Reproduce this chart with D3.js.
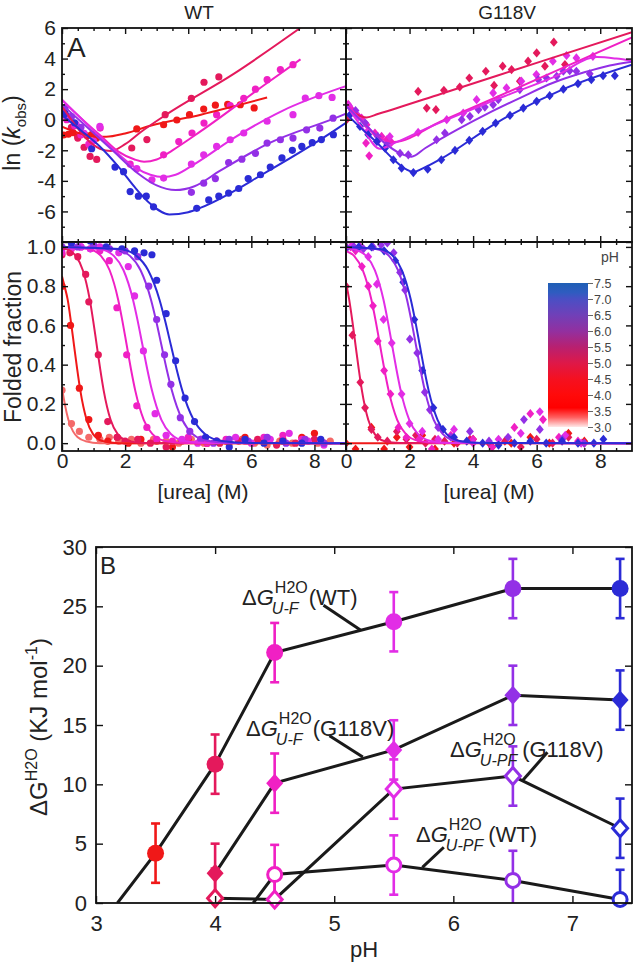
<!DOCTYPE html>
<html>
<head>
<meta charset="utf-8">
<script src="https://cdn.jsdelivr.net/npm/d3@7"></script>
<style>
body { margin: 0; background: #fff; }
text { font-family: "Liberation Sans", Arial, sans-serif; fill: #222; }
</style>
</head>
<body>
<svg id="fig" width="633" height="969"></svg>
<script>
// pH colour code shared by every panel
const phLevels = [3.0, 3.5, 4.0, 4.5, 5.5, 6.5, 7.4];
const phColors = ['#f46a6a', '#f01818', '#e4195c', '#f020c4', '#e22de6', '#9330e6', '#2b2bd6'];

// colour bar
const barTicks = [3.0, 3.5, 4.0, 4.5, 5.0, 5.5, 6.0, 6.5, 7.0, 7.5];
const barStops = [[7.5, '#1f5fb5'], [7.2, '#2f5cc0'], [7.0, '#4a4fc4'], [6.5, '#7040b8'], [6.0, '#9230a0'],
                  [5.5, '#b82070'], [5.0, '#de1848'], [4.5, '#f51020'], [4.0, '#ff0a0a'], [3.6, '#ff0000'],
                  [3.3, '#ff6060'], [3.0, '#ffe8e8']];

// ---- panel A, WT kinetics: ln(kobs) vs [urea] ----
const wtKinFit = [
  [3.5, [[0,-0.45],[0.5,-0.85],[1.0,-1.08],[1.4,-1.12],[2.0,-0.9],[2.8,-0.4],[4.4,0.33],[6.5,1.45]]],
  [4.0, [[0,0.87],[0.4,-0.3],[0.8,-1.3],[1.2,-1.9],[1.55,-2.05],[2.0,-1.6],[2.5,-0.8],[3.3,0.33],[5.44,3.0],[7.55,6.0]]],
  [4.5, [[0,1.3],[0.6,0.1],[1.2,-1.0],[1.8,-2.1],[2.3,-2.6],[2.6,-2.75],[3.0,-2.6],[3.5,-2.0],[4.4,-0.75],[6.5,2.4],[7.56,3.95]]],
  [5.5, [[0,1.3],[0.8,-0.3],[1.6,-1.9],[2.3,-3.1],[2.8,-3.6],[3.2,-3.75],[3.6,-3.6],[4.2,-2.9],[5.44,-1.2],[7.0,0.6],[8.83,2.08],[9,2.2]]],
  [6.5, [[0,1.0],[0.8,-0.5],[1.6,-2.0],[2.4,-3.5],[3.0,-4.3],[3.6,-4.6],[4.2,-4.35],[5.0,-3.35],[6.5,-1.6],[8.83,0.25],[9,0.4]]],
  [7.4, [[0,0.3],[0.6,-0.7],[1.2,-1.75],[1.8,-3.1],[2.3,-4.4],[2.8,-5.5],[3.4,-6.2],[4.0,-6.05],[4.4,-5.75],[6.5,-3.4],[8.83,-0.44],[9,-0.2]]]
];
const wtKinPts = [
  [3.5, [[0.05,-1.0],[0.2,-0.95],[0.35,-0.85],[0.5,-1.1],[0.65,-0.9],[0.8,-1.05],[0.95,-0.95],[1.1,-1.2],[2.37,-0.6],[3.22,-0.33],[3.64,-0.02],[4.04,0.33],[4.49,0.7],[4.86,0.95],[5.25,1.0],[5.65,0.98],[6.09,0.77]]],
  [4.0, [[0.1,0.3],[0.3,-0.5],[0.5,-1.2],[0.7,-1.8],[0.89,-2.4],[1.1,-2.6],[2.21,-1.85],[2.69,-1.3],[3.27,0.33],[4.1,1.4],[4.5,2.45],[4.97,2.8]]],
  [4.5, [[0.0,0.5],[0.15,0.0],[0.4,-0.4],[0.6,-1.0],[0.85,-1.6],[1.21,-0.55],[2.16,-2.9],[3.22,-2.3],[3.7,-1.43],[4.12,-0.87],[4.5,-0.22],[4.9,0.33],[5.33,0.92],[5.76,1.4],[6.13,2.0],[6.5,2.62],[6.92,3.28],[7.32,3.6]]],
  [5.5, [[0.05,0.6],[0.25,0.2],[0.45,-0.3],[0.7,-0.9],[1.0,-1.4],[1.2,-0.44],[2.37,-3.2],[2.85,-3.93],[3.22,-3.82],[4.1,-2.9],[4.49,-2.3],[4.9,-1.75],[5.33,-1.31],[5.76,-0.87],[6.5,-0.1],[7.32,0.33],[7.71,1.42],[8.14,1.57],[8.56,1.46]]],
  [6.5, [[0.1,0.8],[0.3,0.2],[0.6,-0.5],[4.1,-4.75],[4.49,-4.15],[4.86,-3.85],[5.28,-2.8],[5.7,-2.58],[6.13,-2.2],[6.5,-1.53],[6.92,-1.31],[7.32,-1.2],[7.75,-0.66],[8.17,-0.55],[8.59,0.1]]],
  [7.4, [[0.1,0.4],[0.4,-0.2],[0.94,-1.9],[1.68,-3.1],[1.95,-3.4],[2.16,-4.7],[2.42,-5.0],[2.67,-5.0],[2.9,-5.7],[4.27,-5.8],[4.65,-5.25],[4.97,-5.0],[5.28,-4.8],[5.6,-4.5],[5.9,-3.85],[6.29,-3.6],[6.6,-3.1],[6.97,-2.5],[7.3,-2.0],[7.6,-1.75],[7.93,-1.5],[8.22,-1.3],[8.6,-0.98]]]
];

// ---- panel A, G118V kinetics ----
const g1KinFit = [
  [4.0, [[0,0.9],[0.3,0.4],[0.65,0.15],[1.0,0.37],[3,1.7],[6,3.72],[9,5.73]]],
  [4.5, [[0,1.1],[0.5,-0.1],[1.0,-1.1],[1.5,-1.45],[3,-0.1],[5,1.72],[7,3.55],[9,5.38]]],
  [5.5, [[0,1.0],[0.5,-0.5],[1.07,-1.9],[1.5,-1.55],[2.5,-0.6],[3.7,0.45],[5,1.55],[6.5,2.75],[7.9,4.1],[8.5,4.0],[9,3.85]]],
  [6.5, [[0,0.9],[0.6,-0.3],[1.2,-1.5],[1.7,-2.2],[2.06,-2.42],[2.5,-1.85],[3.5,-0.65],[4.5,0.45],[5.5,1.45],[6.5,2.4],[7.5,3.1],[8.3,3.55],[9,3.8]]],
  [7.4, [[0,0.4],[0.5,-0.6],[1.0,-1.55],[1.5,-2.6],[1.9,-3.25],[2.12,-3.42],[2.4,-3.2],[3.0,-2.55],[4.74,-0.2],[6.84,2.0],[9,3.6]]]
];
const g1KinPts = [
  [4.0, [[0.02,0.0],[2.27,1.85],[2.54,0.76],[2.83,0.66],[3.08,1.92],[3.58,2.14],[3.88,2.73],[4.4,3.17],[4.66,2.24],[4.93,3.5],[5.21,3.28],[5.47,2.52],[5.73,3.83],[6.0,4.37],[6.26,3.5],[6.54,5.07],[6.89,3.61]]],
  [4.5, [[0.07,1.0],[0.18,0.66],[0.34,0.33],[0.49,0.11],[0.65,-0.33],[0.63,-1.53],[0.73,-2.36],[0.91,-0.87],[1.12,-1.09],[1.28,-1.31],[1.43,-1.48]]],
  [5.5, [[0.1,0.9],[0.4,0.2],[0.7,-0.7],[1.0,-1.4],[1.38,-1.1],[2.27,-0.83],[3.17,0.0],[3.69,0.44],[4.11,1.31],[4.63,1.75],[5.05,2.08],[5.52,2.52],[5.99,2.95],[6.51,3.83],[6.94,4.2],[7.25,4.04],[7.77,4.15]]],
  [6.5, [[0.3,0.6],[0.6,-0.2],[1.0,-1.1],[1.3,-1.6],[1.7,-2.2],[1.96,-2.3],[2.85,-1.31],[3.11,-0.87],[3.64,0.0],[3.9,0.22],[4.17,0.66],[4.37,0.83],[4.63,0.98],[4.79,1.31],[5.47,1.97],[6.05,2.62],[6.31,2.73],[6.63,2.84],[6.84,3.17],[7.04,3.21],[7.25,3.17],[7.67,3.0]]],
  [7.4, [[0.13,0.33],[0.44,-0.44],[0.7,-0.98],[0.97,-1.42],[1.23,-1.86],[1.49,-2.62],[1.75,-3.17],[2.12,-3.46],[2.57,-3.24],[3.0,-2.62],[3.43,-2.0],[3.88,-1.35],[4.3,-0.76],[4.71,-0.22],[5.16,0.28],[5.58,0.76],[6.0,1.2],[6.41,1.57],[6.84,2.0],[7.3,2.36],[7.72,2.62],[8.09,2.88],[8.46,2.88]]]
];

// ---- panel A, WT equilibrium: folded fraction ----
const wtFoldFit = [
  [3.0, [[0,0.28],[0.1,0.19],[0.2,0.12],[0.35,0.06],[0.5,0.03],[0.75,0.01],[1.2,0],[9,0]]],
  [3.5, [[0,0.85],[0.08,0.8],[0.18,0.731],[0.28,0.622],[0.38,0.5],[0.48,0.378],[0.58,0.269],[0.78,0.119],[0.98,0.047],[1.28,0.011],[1.8,0],[9,0]]],
  [4.0, [[0,0.99],[0.11,0.989],[0.44,0.953],[0.66,0.881],[0.88,0.731],[0.99,0.622],[1.1,0.5],[1.21,0.378],[1.32,0.269],[1.54,0.119],[1.76,0.047],[2.09,0.011],[2.64,0.001],[9,0]]],
  [4.5, [[0,1.0],[0.835,0.989],[1.24,0.953],[1.51,0.881],[1.78,0.731],[1.915,0.622],[2.05,0.5],[2.185,0.378],[2.32,0.269],[2.59,0.119],[2.86,0.047],[3.265,0.011],[3.94,0.001],[9,0]]],
  [5.5, [[0,1.0],[1.2,0.989],[1.65,0.953],[1.95,0.881],[2.25,0.731],[2.4,0.622],[2.55,0.5],[2.7,0.378],[2.85,0.269],[3.15,0.119],[3.45,0.047],[3.9,0.011],[4.65,0.001],[9,0]]],
  [6.5, [[0,1.0],[1.665,0.989],[2.16,0.953],[2.49,0.881],[2.82,0.731],[2.985,0.622],[3.15,0.5],[3.315,0.378],[3.48,0.269],[3.81,0.119],[4.14,0.047],[4.635,0.011],[5.46,0.001],[9,0]]],
  [7.4, [[0,1.0],[1.83,0.989],[2.37,0.953],[2.73,0.881],[3.09,0.731],[3.27,0.622],[3.45,0.5],[3.63,0.378],[3.81,0.269],[4.17,0.119],[4.53,0.047],[5.07,0.011],[5.97,0.001],[9,0]]]
];
const wtFoldPts = [
  [3.0, [[0,0.27],[0.3,0.1],[0.55,0.06],[0.85,0.03],[1.2,0.02],[1.5,0.03],[1.8,0.01],[2.2,0.02],[2.5,0.0],[2.9,0.02],[3.3,0.01],[3.7,0.0],[4.1,0.02],[4.5,0.0],[4.9,0.01],[5.3,0.0],[5.7,0.02],[6.1,0.0],[6.5,-0.01],[6.9,0.01],[7.3,0.0],[7.7,0.02],[8.1,0.0],[8.5,0.01]]],
  [3.5, [[0,0.8],[0.27,0.6],[0.55,0.28],[0.85,0.12],[1.15,0.04],[1.45,0.01],[1.75,0.03],[2.1,0.0],[2.5,0.02],[3.0,0.01],[3.5,-0.02],[4.0,0.02],[4.6,0.0],[5.2,0.01],[5.8,0.03],[6.4,0.01],[7.0,0.02],[7.6,0.03],[8.0,0.05],[8.3,0.0]]],
  [4.0, [[0,0.96],[0.25,0.97],[0.5,0.95],[0.75,0.86],[0.85,0.72],[1.15,0.45],[1.45,0.11],[1.75,0.03],[2.0,0.01],[2.4,0.02],[2.8,0.0],[3.3,-0.02],[3.8,0.01],[4.4,0.02],[5.0,0.0],[5.6,0.01],[6.2,0.02],[6.8,-0.01],[7.4,0.0],[8.0,0.02]]],
  [4.5, [[0,0.97],[0.3,0.99],[0.6,1.0],[0.9,0.99],[1.2,0.98],[1.5,0.93],[1.74,0.69],[2.05,0.45],[2.37,0.19],[2.69,0.08],[3.0,0.02],[3.5,0.01],[4.0,0.03],[4.6,0.0],[5.2,0.02],[5.8,0.01],[6.4,0.03],[7.0,0.04],[7.6,0.02],[8.2,0.01]]],
  [5.5, [[0,0.99],[0.3,1.0],[0.6,1.0],[0.9,0.99],[1.2,1.0],[1.5,0.99],[1.8,0.97],[2.1,0.9],[2.3,0.75],[2.58,0.47],[2.95,0.15],[3.3,0.04],[3.8,0.02],[4.3,0.0],[4.9,0.01],[5.5,0.03],[6.0,0.0],[6.6,0.02],[7.2,0.05],[7.8,0.01],[8.3,-0.01]]],
  [6.5, [[0,1.0],[0.5,1.0],[1.0,1.01],[1.5,0.99],[2.0,0.98],[2.4,0.95],[2.75,0.8],[3.0,0.63],[3.25,0.45],[3.45,0.3],[3.75,0.13],[4.05,0.06],[4.4,0.02],[4.8,0.0],[5.3,0.02],[5.9,0.01],[6.5,0.03],[7.1,0.0],[7.7,0.02],[8.3,0.0]]],
  [7.4, [[0.3,1.02],[0.9,1.03],[1.4,1.0],[1.9,0.99],[2.3,0.98],[2.6,0.97],[2.85,0.96],[3.0,0.83],[3.3,0.66],[3.6,0.42],[3.9,0.23],[4.2,0.11],[4.55,0.03],[4.9,0.01],[5.3,-0.02],[5.8,0.02],[6.4,0.0],[7.0,0.01],[7.6,0.0],[8.2,0.02]]]
];

// ---- panel A, G118V equilibrium ----
const g1FoldFit = [
  [3.5, [[0,0],[9,0]]],
  [4.0, [[0,0.82],[0.1,0.731],[0.2,0.622],[0.3,0.5],[0.4,0.378],[0.5,0.269],[0.7,0.119],[0.9,0.047],[1.2,0.011],[1.7,0.001],[9,0]]],
  [4.5, [[0,0.98],[0.26,0.953],[0.53,0.881],[0.8,0.731],[0.935,0.622],[1.07,0.5],[1.205,0.378],[1.34,0.269],[1.61,0.119],[1.88,0.047],[2.285,0.011],[2.96,0.001],[9,0]]],
  [5.5, [[0,0.995],[0.235,0.989],[0.64,0.953],[0.91,0.881],[1.18,0.731],[1.315,0.622],[1.45,0.5],[1.585,0.378],[1.72,0.269],[1.99,0.119],[2.26,0.047],[2.665,0.011],[3.34,0.001],[9,0]]],
  [6.5, [[0,1.0],[0.94,0.989],[1.36,0.953],[1.64,0.881],[1.92,0.731],[2.06,0.622],[2.2,0.5],[2.34,0.378],[2.48,0.269],[2.76,0.119],[3.04,0.047],[3.46,0.011],[4.16,0.001],[9,0]]],
  [7.4, [[0,1.0],[1.06,0.989],[1.48,0.953],[1.76,0.881],[2.04,0.731],[2.18,0.622],[2.32,0.5],[2.46,0.378],[2.6,0.269],[2.88,0.119],[3.16,0.047],[3.58,0.011],[4.28,0.001],[9,0]]]
];
const g1FoldPts = [
  [3.5, [[0,0.0],[0.3,-0.03],[0.8,0.08],[1.2,-0.03],[1.6,0.03],[2.0,-0.02],[2.4,0.04],[2.8,-0.03],[3.4,0.0],[4.0,0.02],[4.6,-0.02],[5.2,0.0],[5.8,0.03],[6.4,0.0],[7.0,0.05],[7.5,0.01]]],
  [4.0, [[0,0.8],[0.2,0.55],[0.45,0.31],[0.6,0.18],[0.8,0.07],[1.0,0.03],[1.3,0.01],[1.6,0.06],[1.9,0.02],[2.2,0.04],[2.5,0.0],[2.8,0.02],[3.1,0.01],[3.5,0.0],[3.9,0.02],[4.5,0.0],[5.0,0.01],[5.5,-0.02],[6.0,0.02],[6.5,0.0],[7.0,0.03],[7.5,0.0]]],
  [4.5, [[0,1.0],[0.15,1.0],[0.3,0.98],[0.5,0.9],[0.7,0.8],[0.85,0.7],[1.0,0.52],[1.2,0.37],[1.4,0.25],[1.65,0.08],[1.9,0.03],[2.3,0.02],[2.7,-0.03],[3.3,0.04],[4.0,0.02],[4.6,-0.02],[5.3,0.08],[5.8,0.15],[6.2,0.12],[6.7,0.03],[7.3,0.01]]],
  [5.5, [[0,1.0],[0.2,1.01],[0.45,1.0],[0.7,0.95],[0.97,0.81],[1.18,0.63],[1.44,0.51],[1.75,0.25],[2.0,0.1],[2.4,0.06],[2.9,0.02],[3.4,0.07],[4.0,0.0],[4.8,0.02],[5.5,0.05],[6.1,0.16],[6.9,0.04],[7.4,0.0]]],
  [6.5, [[0,1.0],[0.25,1.0],[0.55,0.99],[0.85,1.0],[1.1,1.01],[1.3,1.02],[1.5,0.97],[1.7,0.87],[1.86,0.78],[2.01,0.53],[2.24,0.46],[2.48,0.26],[2.64,0.17],[2.9,0.08],[3.3,0.03],[3.9,0.06],[4.5,0.01],[5.1,0.03],[5.6,0.12],[6.1,0.07],[6.8,0.02],[7.5,0.0]]],
  [7.4, [[0,0.99],[0.4,1.0],[0.8,1.0],[1.2,0.98],[1.55,0.93],[1.8,0.82],[2.15,0.63],[2.4,0.37],[2.75,0.18],[3.05,0.07],[3.4,0.03],[3.8,0.01],[4.3,0.0],[4.8,-0.01],[5.3,0.0],[5.8,0.01],[6.3,0.0],[6.8,0.01],[7.3,0.0],[7.8,0.0],[8.1,0.02]]]
];

// ---- panel B: stability vs pH ----
const phB   = [3.5, 4.0, 4.5, 5.5, 6.5, 7.4];
const wtUF  = [4.2, 11.7, 21.1, 23.7, 26.5, 26.5];
const g1UF  = [null, 2.5, 10.1, 12.9, 17.5, 17.1];
const wtUPF = [null, null, 2.4, 3.2, 1.9, 0.3];
const g1UPF = [null, 0.4, 0.3, 9.6, 10.7, 6.3];
const errB  = [2.5, 2.5, 2.5, 2.5, 2.5, 2.5];
// where the drawn trend lines meet ΔG = 0
const zeroCross = { wtUF: 3.18, wtUPF: 4.32 };

const color = d3.scaleOrdinal().domain(phLevels).range(phColors);
const svg = d3.select('#fig');
let clipN = 0;

function frameAxes(g, x, y, o) {
  const [x0, x1] = x.range(), [y1, y0] = y.range();
  const add = (axis, tx, ty, vals, size, fmt, pad) => {
    const a = g.append('g').attr('transform', `translate(${tx},${ty})`)
      .call(axis.tickValues(vals).tickSize(size).tickPadding(pad || 4).tickFormat(fmt || (() => '')))
      .attr('font-family', null).attr('font-size', null);
    a.select('.domain').remove();
    a.selectAll('line').attr('stroke', '#111').attr('stroke-width', 1.4);
    a.selectAll('text').style('font-size', o.fs + 'px');
  };
  add(d3.axisLeft(y), x0, 0, o.yMaj, -o.tl, o.yFmt, o.yPad);
  add(d3.axisRight(y), x1, 0, o.yMaj, -o.tl);
  add(d3.axisBottom(x), 0, y1, o.xMaj, -o.tl, o.xFmt, o.xPad);
  add(d3.axisTop(x), 0, y0, o.xMaj, -o.tl);
  if (o.yMin) {
    add(d3.axisLeft(y), x0, 0, o.yMin, -o.tl / 2);
    add(d3.axisRight(y), x1, 0, o.yMin, -o.tl / 2);
  }
  if (o.xMin) {
    add(d3.axisBottom(x), 0, y1, o.xMin, -o.tl / 2);
    add(d3.axisTop(x), 0, y0, o.xMin, -o.tl / 2);
  }
  g.append('rect').attr('x', x0).attr('y', y0).attr('width', x1 - x0).attr('height', y1 - y0)
    .attr('fill', 'none').attr('stroke', '#111').attr('stroke-width', 1.8);
}

function clipFor(x, y) {
  const id = 'clip' + (clipN++);
  const [x0, x1] = x.range(), [y1, y0] = y.range();
  svg.append('clipPath').attr('id', id).append('rect')
    .attr('x', x0).attr('y', y0).attr('width', x1 - x0).attr('height', y1 - y0);
  return `url(#${id})`;
}

const ureaMaj = [0, 2, 4, 6, 8];
const ureaMin = d3.range(0.5, 9, 0.5).filter(v => v % 2 !== 0);
const diamond = (h, w) => `M0,${-h}L${w},0L0,${h}L${-w},0Z`;

function ureaPanel(o) {
  const g = svg.append('g');
  const x = d3.scaleLinear().domain([0, 9]).range([o.x0, o.x1]);
  const y = d3.scaleLinear().domain(o.yd).range([o.y1, o.y0]);
  const clip = clipFor(x, y);
  const inner = g.append('g').attr('clip-path', clip);
  o.pts.forEach(([ph, pts]) => {
    const sel = inner.selectAll(null).data(pts);
    if (o.shape === 'diamond') {
      sel.enter().append('path').attr('d', diamond(4.6, 3.9))
        .attr('transform', d => `translate(${x(d[0])},${y(d[1])})`).attr('fill', color(ph));
    } else {
      sel.enter().append('circle').attr('cx', d => x(d[0])).attr('cy', d => y(d[1]))
        .attr('r', 3.6).attr('fill', color(ph));
    }
  });
  const line = d3.line().x(d => x(d[0])).y(d => y(d[1])).curve(d3.curveMonotoneX);
  o.fit.forEach(([ph, pts]) => {
    inner.append('path').attr('d', line(pts)).attr('fill', 'none')
      .attr('stroke', color(ph)).attr('stroke-width', 2);
  });
  frameAxes(g, x, y, {
    fs: 21, tl: 6, yMaj: o.yMaj, yMin: o.yMin, xMaj: ureaMaj, xMin: ureaMin,
    yFmt: o.yFmt, yPad: 6, xFmt: o.xFmt, xPad: 2
  });
  return g;
}

const kinMaj = [-8, -6, -4, -2, 0, 2, 4, 6];
const kinMin = [-7, -5, -3, -1, 1, 3, 5];
const foldMaj = [0, 0.2, 0.4, 0.6, 0.8, 1.0];
const foldMin = [0.1, 0.3, 0.5, 0.7, 0.9];
const kinFmt = d => (d === -8 ? '' : d3.format('d')(d).replace('−', '-'));

ureaPanel({ x0: 62, x1: 346, y0: 28, y1: 242, yd: [-8, 6], yMaj: kinMaj, yMin: kinMin,
  yFmt: kinFmt, pts: wtKinPts, fit: wtKinFit, shape: 'circle' });
ureaPanel({ x0: 346, x1: 632, y0: 28, y1: 242, yd: [-8, 6], yMaj: kinMaj, yMin: kinMin,
  pts: g1KinPts, fit: g1KinFit, shape: 'diamond' });
ureaPanel({ x0: 62, x1: 346, y0: 242, y1: 451, yd: [-0.04, 1.025], yMaj: foldMaj, yMin: foldMin,
  yFmt: d3.format('.1f'), xFmt: d3.format('d'), pts: wtFoldPts, fit: wtFoldFit, shape: 'circle' });
ureaPanel({ x0: 346, x1: 632, y0: 242, y1: 451, yd: [-0.04, 1.025], yMaj: foldMaj, yMin: foldMin,
  xFmt: d3.format('d'), pts: g1FoldPts, fit: g1FoldFit, shape: 'diamond' });

// panel A titles and axis labels
svg.append('text').attr('x', 199).attr('y', 19).attr('text-anchor', 'middle').style('font-size', '19px').text('WT');
svg.append('text').attr('x', 507).attr('y', 19).attr('text-anchor', 'middle').style('font-size', '19px').text('G118V');
svg.append('text').attr('x', 67).attr('y', 57).style('font-size', '28px').text('A');

const lnLab = svg.append('text').attr('transform', 'translate(20,133) rotate(-90)')
  .attr('text-anchor', 'middle').style('font-size', '23px');
lnLab.append('tspan').text('ln (');
lnLab.append('tspan').style('font-style', 'italic').text('k');
lnLab.append('tspan').attr('dy', 6).style('font-size', '15px').text('obs');
lnLab.append('tspan').attr('dy', -6).text(')');

svg.append('text').attr('transform', 'translate(21,347) rotate(-90)').attr('text-anchor', 'middle')
  .style('font-size', '23px').text('Folded fraction');
svg.append('text').attr('x', 203).attr('y', 499).attr('text-anchor', 'middle').style('font-size', '21px').text('[urea] (M)');
svg.append('text').attr('x', 489).attr('y', 499).attr('text-anchor', 'middle').style('font-size', '21px').text('[urea] (M)');

// colour bar
const bar = svg.append('g');
const by = d3.scaleLinear().domain([3.0, 7.5]).range([427, 283]);
const grad = svg.append('defs').append('linearGradient').attr('id', 'phgrad')
  .attr('x1', 0).attr('y1', 0).attr('x2', 0).attr('y2', 1);
grad.selectAll('stop').data(barStops).enter().append('stop')
  .attr('offset', d => (by(d[0]) - 283) / 144).attr('stop-color', d => d[1]);
bar.append('rect').attr('x', 548).attr('y', 283).attr('width', 40).attr('height', 144).attr('fill', 'url(#phgrad)');
const barAxis = bar.append('g').attr('transform', 'translate(588,0)')
  .call(d3.axisRight(by).tickValues(barTicks).tickSize(5).tickPadding(1).tickFormat(d3.format('.1f')))
  .attr('font-family', null).attr('font-size', null);
barAxis.select('.domain').remove();
barAxis.selectAll('line').attr('stroke', '#666');
barAxis.selectAll('text').style('font-size', '12.5px').style('fill', '#444');
bar.append('text').attr('x', 610).attr('y', 262).attr('text-anchor', 'middle').style('font-size', '14px')
  .style('fill', '#444').text('pH');

// ---- panel B ----
const gB = svg.append('g');
const xB = d3.scaleLinear().domain([3, 7.5]).range([96, 632]);
const yB = d3.scaleLinear().domain([0, 30]).range([903, 547]);
const clipB = clipFor(xB, yB);
const seriesB = [
  { key: 'wtUF', vals: wtUF, shape: 'circle', open: false },
  { key: 'g1UF', vals: g1UF, shape: 'diamond', open: false },
  { key: 'wtUPF', vals: wtUPF, shape: 'circle', open: true },
  { key: 'g1UPF', vals: g1UPF, shape: 'diamond', open: true }
].map(s => ({ ...s, pts: phB.map((p, i) => ({ ph: p, v: s.vals[i], e: errB[i] })).filter(d => d.v != null) }));

const lineB = d3.line().x(d => xB(d.ph)).y(d => yB(d.v));
const linesB = gB.append('g').attr('clip-path', clipB);
seriesB.forEach(s => {
  const pts = zeroCross[s.key] ? [{ ph: zeroCross[s.key], v: 0 }].concat(s.pts) : s.pts;
  linesB.append('path').attr('d', lineB(pts)).attr('fill', 'none').attr('stroke', '#1a1a1a').attr('stroke-width', 3);
});
// leader lines for annotations
const leaders = [[[4.91, 25.1], [5.22, 23.0]], [[4.96, 14.1], [5.24, 12.3]], [[6.79, 12.7], [6.58, 10.3]], [[5.92, 4.7], [5.74, 3.0]]];
leaders.forEach(l => {
  gB.append('line').attr('x1', xB(l[0][0])).attr('y1', yB(l[0][1])).attr('x2', xB(l[1][0])).attr('y2', yB(l[1][1]))
    .attr('stroke', '#1a1a1a').attr('stroke-width', 3);
});

const errG = gB.append('g').attr('clip-path', clipB);
seriesB.forEach(s => {
  s.pts.forEach(d => {
    const c = color(d.ph), cx = xB(d.ph);
    errG.append('line').attr('x1', cx).attr('x2', cx).attr('y1', yB(d.v - d.e)).attr('y2', yB(d.v + d.e))
      .attr('stroke', c).attr('stroke-width', 2.6);
    [d.v - d.e, d.v + d.e].forEach(v => errG.append('line').attr('x1', cx - 4.5).attr('x2', cx + 4.5)
      .attr('y1', yB(v)).attr('y2', yB(v)).attr('stroke', c).attr('stroke-width', 2.6));
  });
});
seriesB.forEach(s => {
  s.pts.forEach(d => {
    const c = color(d.ph);
    const m = s.shape === 'circle'
      ? gB.append('circle').attr('cx', xB(d.ph)).attr('cy', yB(d.v)).attr('r', s.open ? 7 : 8.5)
      : gB.append('path').attr('d', s.open ? diamond(8.5, 7.5) : diamond(9.5, 8.5))
          .attr('transform', `translate(${xB(d.ph)},${yB(d.v)})`);
    if (s.open) m.attr('fill', '#fff').attr('stroke', c).attr('stroke-width', 3);
    else m.attr('fill', c);
  });
});

frameAxes(gB, xB, yB, {
  fs: 22, tl: 7, yMaj: [0, 5, 10, 15, 20, 25, 30], xMaj: [3, 4, 5, 6, 7],
  yFmt: d3.format('d'), yPad: 9, xFmt: d3.format('d'), xPad: 12
});
svg.append('text').attr('x', 100).attr('y', 574).style('font-size', '24px').text('B');
svg.append('text').attr('x', 364).attr('y', 957).attr('text-anchor', 'middle').style('font-size', '22px').text('pH');

const dgLab = svg.append('text').attr('transform', 'translate(47,727) rotate(-90)')
  .attr('text-anchor', 'middle').style('font-size', '24px');
dgLab.append('tspan').text('ΔG');
dgLab.append('tspan').attr('dy', -10).style('font-size', '16px').text('H2O');
dgLab.append('tspan').attr('dy', 10).text(' (KJ mol');
dgLab.append('tspan').attr('dy', -10).style('font-size', '16px').text('-1');
dgLab.append('tspan').attr('dy', 10).text(')');

function dgLabel(x, y, sub, tail, gap) {
  const main = svg.append('text').attr('x', x).attr('y', y).style('font-size', '22px');
  main.append('tspan').text('Δ');
  main.append('tspan').style('font-style', 'italic').text('G');
  const w = main.node().getComputedTextLength();
  const sp = svg.append('text').attr('x', x + w + 1).attr('y', y - 12).style('font-size', '16px').text('H2O');
  const sb = svg.append('text').attr('x', x + w - 2).attr('y', y + 9).style('font-size', '16px')
    .style('font-style', 'italic').text(sub);
  const w2 = Math.max(sp.node().getComputedTextLength() + 1, sb.node().getComputedTextLength() - 2);
  svg.append('text').attr('x', x + w + w2 + gap).attr('y', y).style('font-size', '22px').text(tail);
}
dgLabel(242, 605, 'U-F', '(WT)', 1);
dgLabel(246, 736, 'U-F', '(G118V)', 1);
dgLabel(450, 757, 'U-PF', '(G118V)', 5);
dgLabel(416, 842, 'U-PF', '(WT)', 5);
</script>
</body>
</html>
